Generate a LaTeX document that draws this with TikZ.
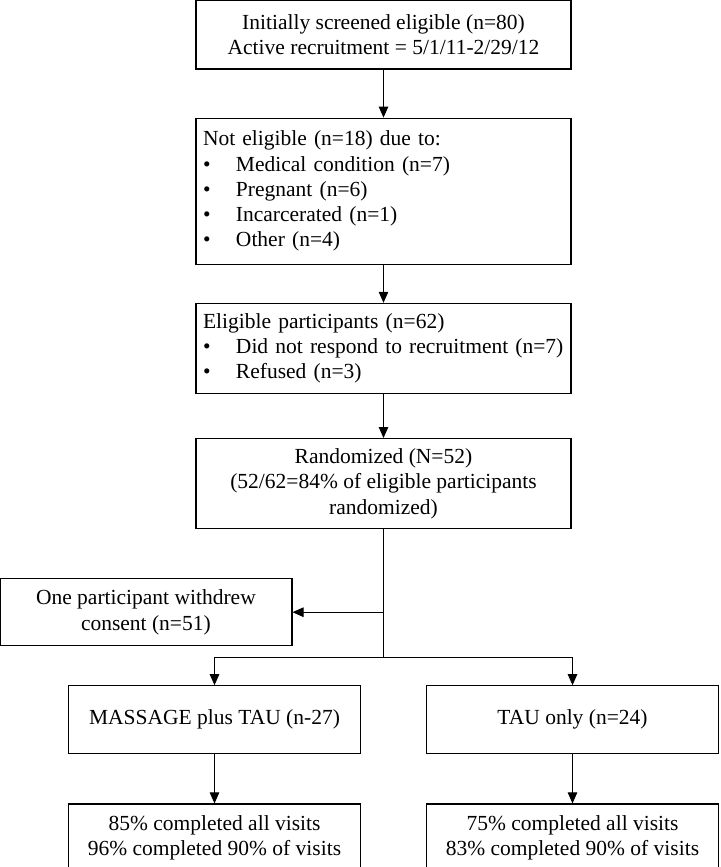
\documentclass[tikz,border=0pt]{standalone}
\usepackage{fontspec}
\setmainfont{Liberation Serif}
\usepackage{tikz}
\usetikzlibrary{
    arrows.meta,
    positioning
}
\newcommand{\bul}{\makebox[33pt][l]{\textbullet}}

\begin{document}
\begin{tikzpicture}[
    box/.style={
        rectangle,
        draw,
        line width=1.2pt,
        align=center,
        minimum width=375pt,
        inner sep=0pt,
        font=\fontsize{21.5}{25.3}\selectfont
    },
    listbox/.style={
        box,
        align=left,
        text width=361pt,
        inner xsep=7pt
    },
    smallbox/.style={
        box,
        minimum width=292pt,
        minimum height=68pt
    },
    arrow/.style={
        -{Triangle[length=11pt,width=9.5pt]},
        line width=1pt
    },
    plain/.style={
        line width=1pt
    }
]
\useasboundingbox (0pt,0pt) rectangle (720pt,-867pt);

% Main column
\node[box, minimum height=69pt] (screened) at (383.5pt,-34.5pt)
    {Initially screened eligible (n=80)\\Active recruitment = 5/1/11-2/29/12};
\node[listbox, minimum height=146pt, below=48pt of screened] (noteligible)
    {Not eligible (n=18) due to:\\\bul Medical condition (n=7)\\\bul Pregnant (n=6)\\\bul Incarcerated (n=1)\\\bul Other (n=4)};
\node[listbox, minimum height=90pt, below=38pt of noteligible] (eligible)
    {Eligible participants (n=62)\\\bul Did not respond to recruitment (n=7)\\\bul Refused (n=3)};
\node[box, minimum height=90pt, below=44pt of eligible] (randomized)
    {Randomized (N=52)\\(52/62=84\% of eligible participants\\randomized)};

\path (randomized.south) ++(0,-83pt) coordinate (wd) ++(0,-45pt) coordinate (split);

% Withdrawal and arms
\node[smallbox, minimum height=67pt, left=91pt of wd] (withdrew)
    {One participant withdrew\\consent (n=51)};
\node[smallbox, below=28pt of split, xshift=-169pt] (massage) {MASSAGE plus TAU (n-27)};
\node[smallbox, below=28pt of split, xshift=189pt] (tauonly) {TAU only (n=24)};
\node[smallbox, below=49pt of massage] (massagedone)
    {85\% completed all visits\\96\% completed 90\% of visits};
\node[smallbox, below=49pt of tauonly] (taudone)
    {75\% completed all visits\\83\% completed 90\% of visits};

% Arrows
\draw[arrow] (screened) -- (noteligible);
\draw[arrow] (noteligible) -- (eligible);
\draw[arrow] (eligible) -- (randomized);
\draw[plain] (randomized) -- (split);
\draw[arrow] (wd) -- (withdrew);
\draw[arrow] (split) -| (massage);
\draw[arrow] (split) -| (tauonly);
\draw[arrow] (massage) -- (massagedone);
\draw[arrow] (tauonly) -- (taudone);

\end{tikzpicture}
\end{document}
